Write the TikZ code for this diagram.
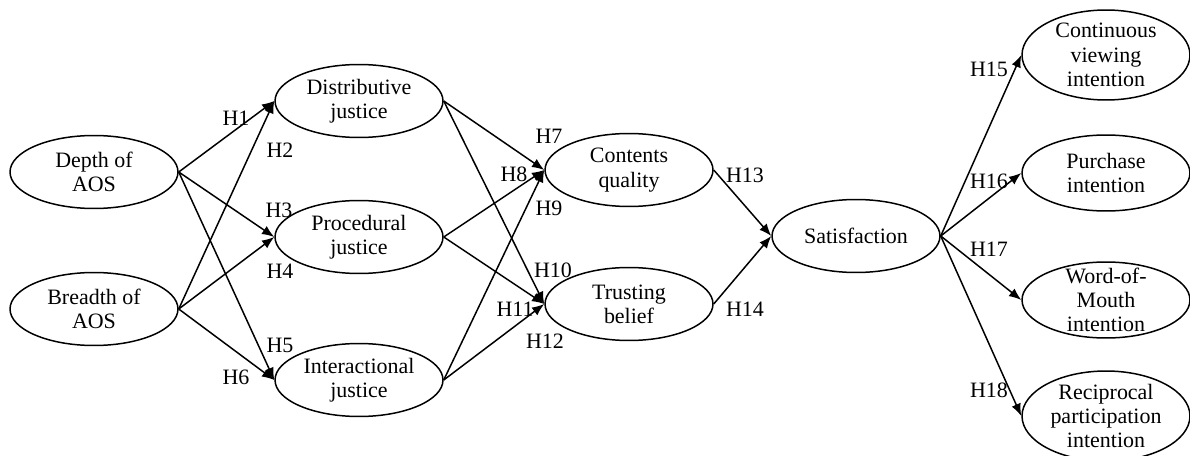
\documentclass[tikz,border=0pt]{standalone}
\usepackage{fontspec}
\setmainfont{Liberation Serif}
\usetikzlibrary{shapes.geometric,arrows.meta}

\begin{document}
\begin{tikzpicture}
    [x=0.02cm, y=-0.02cm,
    construct/.style={ellipse, draw, line width=0.85pt, inner sep=0pt,
      minimum width=3.36cm, minimum height=1.46cm, align=center,
      font=\fontsize{12.5pt}{13.8pt}\selectfont},
    link/.style={draw, line width=0.85pt, -{Latex[length=7pt,width=5.5pt]}},
    hyp/.style={inner sep=0pt, font=\fontsize{12.5pt}{13.8pt}\selectfont}]
  \useasboundingbox (0,0) rectangle (1190,456);
  % antecedents
  \node [construct] (depth) at (94,172) {Depth of\\AOS};
  \node [construct] (breadth) at (94,309) {Breadth of\\AOS};
  % justice
  \node [construct] (dist) at (359,101) {Distributive\\justice};
  \node [construct] (proc) at (359,237) {Procedural\\justice};
  \node [construct] (inter) at (359,380) {Interactional\\justice};
  % mediators
  \node [construct] (quality) at (629,170) {Contents\\quality};
  \node [construct] (trust) at (629,304) {Trusting\\belief};
  \node [construct] (satis) at (856,236) {Satisfaction};
  % outcomes
  \node [construct, minimum height=1.8cm, inner sep=-2pt] (viewing) at (1106,55) {Continuous\\viewing\\intention};
  \node [construct, minimum height=1.52cm] (purchase) at (1106,173) {Purchase\\intention};
  \node [construct, minimum height=1.52cm, inner sep=-5pt] (wom) at (1106,300) {Word-of-\\Mouth\\intention};
  \node [construct, minimum height=1.8cm, inner sep=-2pt] (recip) at (1106,416) {Reciprocal\\participation\\intention};

  \foreach \from/\to in {depth/dist, depth/proc, depth/inter,
      breadth/dist, breadth/proc, breadth/inter,
      dist/quality, dist/trust, proc/quality, proc/trust,
      inter/quality, inter/trust, quality/satis, trust/satis,
      satis/viewing, satis/purchase, satis/wom, satis/recip}
    \draw [link] (\from.east) -- (\to.west);

  % hypotheses
  \foreach \n/\x/\y in {1/236/118, 2/280/150, 3/279/210, 4/280/271,
      5/280/345, 6/236/377, 7/549/136, 8/514/174, 9/549/208,
      10/553/270, 11/515/309, 12/545/341, 13/745/175, 14/745/309,
      15/989/69, 16/989/181, 17/989/249, 18/989/390}
    \node [hyp] (h\n) at (\x,\y) {H\n};
\end{tikzpicture}
\end{document}
